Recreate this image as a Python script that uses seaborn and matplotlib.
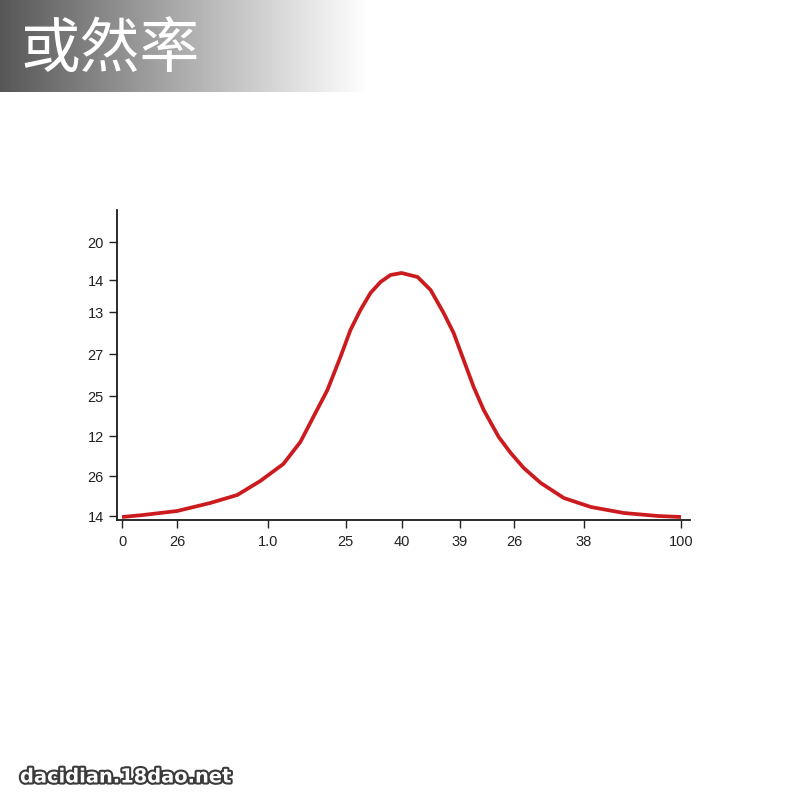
import numpy as np
import pandas as pd
import matplotlib
matplotlib.use("Agg")
import matplotlib.pyplot as plt
import matplotlib.patheffects as pe
import seaborn as sns

# ------------------------------------------------------------
# data
# ------------------------------------------------------------
curve_x = [0, 3.76, 9.86, 15.77, 20.61, 24.73, 28.85, 31.9, 34.59, 36.74,
           39.07, 40.86, 42.65, 44.44, 46.24, 48.03, 50.0, 52.87, 55.2, 57.53,
           59.32, 61.11, 62.9, 64.7, 67.38, 69.53, 71.86, 74.91, 79.03, 83.87,
           89.78, 95.88, 100]
curve_y = [0.075, 0.125, 0.225, 0.425, 0.625, 0.975, 1.4, 1.95, 2.675, 3.25,
           4.075, 4.75, 5.25, 5.675, 5.95, 6.125, 6.175, 6.075, 5.75, 5.175,
           4.675, 4.0, 3.325, 2.75, 2.075, 1.675, 1.3, 0.925, 0.55, 0.325,
           0.175, 0.1, 0.075]

x_tick_pos = [0, 9.9, 26.2, 40, 50, 60.4, 70.1, 82.6, 100]
x_tick_labels = ["0", "26", "1.0", "25", "40", "39", "26", "38", "100"]
y_tick_pos = [0.1, 1.1, 2.1, 3.1, 4.15, 5.2, 6.0, 6.95]
y_tick_labels = ["14", "26", "12", "25", "27", "13", "14", "20"]

title_text = "或然率"
watermark = "dacidian.18dao.net"

# ------------------------------------------------------------
# figure
# ------------------------------------------------------------
sns.set_theme(style="white")
plt.rcParams["font.family"] = ["Noto Sans CJK SC", "DejaVu Sans"]

fig = plt.figure(figsize=(8, 8), dpi=100)
fig.patch.set_facecolor("white")

# grey gradient banner behind the title
banner = fig.add_axes([0, 1 - 92 / 800, 1, 92 / 800])
grad = np.linspace(0.30, 1.0, 370) ** 0.9
grad = np.concatenate([grad, np.ones(430)])
banner.imshow(grad[np.newaxis, :], cmap="gray", vmin=0, vmax=1,
              aspect="auto", extent=[0, 800, 0, 1])
banner.set_xlim(0, 800)
banner.axis("off")
fig.text(20 / 800, 1 - 50 / 800, title_text, color="white", fontsize=43,
         fontweight="light", va="center", ha="left")

# main chart
ax = fig.add_axes([117 / 800, 1 - 520 / 800, (690 - 117) / 800, (520 - 210) / 800])
df = pd.DataFrame({"x": curve_x, "y": curve_y})
sns.lineplot(data=df, x="x", y="y", ax=ax, color="#cc1b1e", linewidth=2.7,
             solid_joinstyle="round", solid_capstyle="butt")

ax.set_xlim(-0.9, 101.6)
ax.set_ylim(0, 7.75)
ax.set_xticks(x_tick_pos)
ax.set_xticklabels(x_tick_labels, family=["Liberation Sans"])
ax.set_yticks(y_tick_pos)
ax.set_yticklabels(y_tick_labels, family=["Liberation Sans"])
ax.set_xlabel("")
ax.set_ylabel("")
ax.tick_params(axis="both", direction="out", length=6, width=1.0,
               color="#222222", labelsize=10.5, labelcolor="#222222",
               bottom=True, left=True)
ax.tick_params(axis="x", pad=5)
for side in ["top", "right"]:
    ax.spines[side].set_visible(False)
for side in ["left", "bottom"]:
    ax.spines[side].set_color("#1a1a1a")
    ax.spines[side].set_linewidth(1.3)
ax.set_facecolor("white")

# watermark
fig.text(20 / 800, 1 - 777 / 800, watermark, fontsize=14, fontweight="bold",
         color="white", family=["DejaVu Sans"], va="center", ha="left",
         path_effects=[pe.withStroke(linewidth=3, foreground="#3a3a3a")])

fig.savefig("out.png", dpi=100, facecolor="white")
